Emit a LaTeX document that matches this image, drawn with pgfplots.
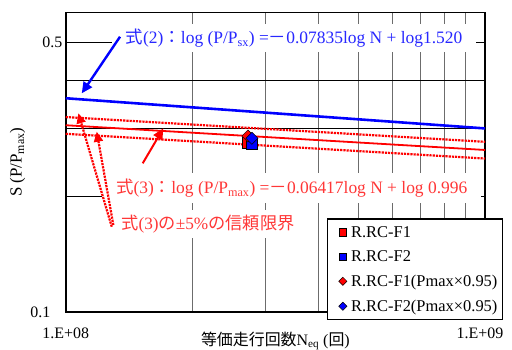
\documentclass[border=0pt]{standalone}
\usepackage{fontspec}
\setmainfont{Liberation Serif}
\newfontfamily\cjk{Noto Sans CJK JP}
\usepackage{pgfplots}
\pgfplotsset{compat=1.18}
\usetikzlibrary{arrows.meta}
\definecolor{txtblue}{RGB}{40,40,255}
\definecolor{txtred}{RGB}{255,55,55}
\pgfplotsset{legmk/.style={legend image code/.code={\path (0bp,0bp) (17bp,0bp); \draw[##1, mark size=#1] plot coordinates {(10.5bp,0bp)};}}}
\begin{document}
\begin{tikzpicture}
\useasboundingbox (-65.7bp,-38bp) rectangle (446.3bp,312bp);
\begin{axis}[
  scale only axis, width=419.3bp, height=299.7bp,
  xmode=log, ymode=log,
  xmin=1e8, xmax=1e9, ymin=0.1, ymax=0.6,
  xtick={1e8,1e9}, xticklabels={1.E+08,{1.E+09\hspace*{10bp}}},
  minor xtick={2e8,3e8,4e8,5e8,6e8,7e8,8e8,9e8},
  ytick={0.1,0.5}, yticklabels={{0.1\hspace*{12bp}},0.5},
  minor ytick={0.2,0.3,0.4},
  major tick length=0pt, minor tick length=0pt,
  grid=both,
  minor x grid style={gray!85!black, line width=0.8bp},
  major grid style={black, line width=0.8bp},
  minor y grid style={black, line width=0.8bp},
  axis line style={line width=1.6bp},
  tick label style={font=\fontsize{16}{18}\selectfont},
  xticklabel style={yshift=-12bp},
  xlabel={{\cjk 等価走行回数}N\textsubscript{eq} ({\cjk 回})},
  xlabel style={at={(axis description cs:0.5,-0.096)}, anchor=center, font=\fontsize{16}{18}\selectfont},
  ylabel={S (P/P\textsubscript{max})},
  ylabel style={at={(axis description cs:-0.115,0.5)}, anchor=center, font=\fontsize{17}{19}\selectfont},
  legend cell align=left,
  legend style={at={(rel axis cs:0.6225,0.3126)}, anchor=north west, draw=black, line width=1.6bp,
    font=\fontsize{16.5}{19}\selectfont, row sep=10bp, inner xsep=4bp, inner ysep=6bp,
    nodes={inner sep=1bp}},
]
\addplot[blue, line width=2.6bp, forget plot] coordinates {(1e8,0.35895) (1e9,0.29969)};
\addplot[red, line width=1.8bp, forget plot] coordinates {(1e8,0.30546) (1e9,0.26346)};
\addplot[red, line width=2.2bp, densely dotted, forget plot] coordinates {(1e8,0.32073) (1e9,0.27663)};
\addplot[red, line width=2.2bp, densely dotted, forget plot] coordinates {(1e8,0.29019) (1e9,0.25029)};

\addplot[only marks, mark=square*, mark size=5.5bp, mark options={fill=red, draw=black, line width=0.5bp},
  legmk=3.6bp] coordinates {(2.72e8,0.2754)};
\addlegendentry{R.RC-F1}
\addplot[only marks, mark=square*, mark size=5.5bp, mark options={fill=blue, draw=black, line width=0.5bp},
  legmk=3.6bp] coordinates {(2.78e8,0.2737)};
\addlegendentry{R.RC-F2}
\addplot[only marks, mark=square*, mark size=4.3bp, mark options={rotate=45, fill=red, draw=black, line width=0.5bp},
  legmk=2.9bp] coordinates {(2.72e8,0.2864)};
\addlegendentry{R.RC-F1(Pmax×0.95)}
\addplot[only marks, mark=square*, mark size=4.3bp, mark options={rotate=45, fill=blue, draw=black, line width=0.5bp},
  legmk=2.9bp] coordinates {(2.78e8,0.2825)};
\addlegendentry{R.RC-F2(Pmax×0.95)}

\node[fill=white, inner xsep=14bp, inner ysep=5bp, text=txtblue, font=\fontsize{17.5}{20}\selectfont]
  at (rel axis cs:0.5445,0.9142) {{\cjk 式}(2){\cjk ：}log (P/P\textsubscript{sx}) ={\cjk －}0.07835log N + log1.520};
\node[fill=white, inner xsep=14bp, inner ysep=6bp, text=txtred, font=\fontsize{17.5}{20}\selectfont]
  at (rel axis cs:0.539,0.4128) {{\cjk 式}(3){\cjk ：}log (P/P\textsubscript{max}) ={\cjk －}0.06417log N + log 0.996};
\node[fill=white, inner xsep=8bp, inner ysep=5bp, text=txtred, font=\fontsize{17.3}{20}\selectfont]
  at (rel axis cs:0.3391,0.2936) {{\cjk 式}(3){\cjk の}±5\%{\cjk の信頼限界}};

\draw[blue, line width=2.4bp, -{Triangle[length=11bp,width=10bp]}] (rel axis cs:0.1295,0.9186) -- (rel axis cs:0.0382,0.7297);
\draw[red, line width=2bp, -{Triangle[length=11bp,width=10bp]}] (rel axis cs:0.1836,0.4962) -- (rel axis cs:0.2328,0.6130);
\draw[red, line width=2.2bp, densely dotted, -{Triangle[length=10bp,width=9bp]}] (rel axis cs:0.1097,0.2846) -- (rel axis cs:0.0301,0.6630);
\draw[red, line width=2.2bp, densely dotted, -{Triangle[length=10bp,width=9bp]}] (rel axis cs:0.1135,0.2903) -- (rel axis cs:0.0739,0.6016);
\end{axis}
\end{tikzpicture}
\end{document}
